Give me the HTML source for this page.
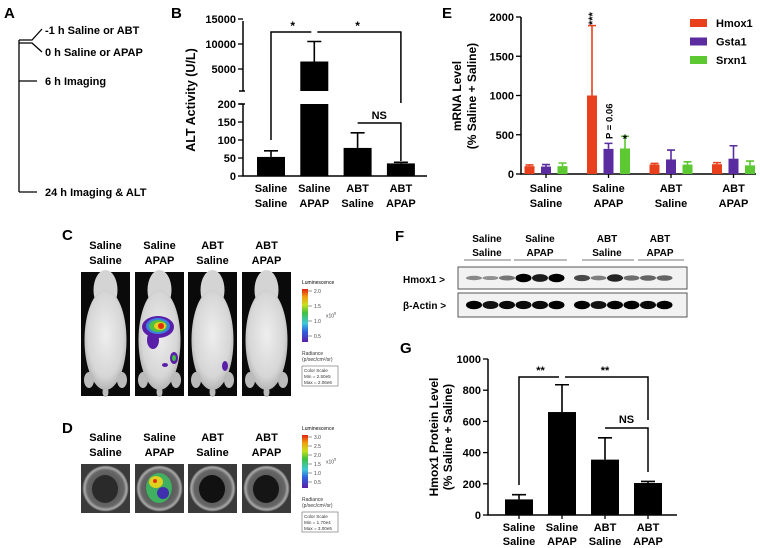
<!DOCTYPE html>
<html><head><meta charset="utf-8"><style>
html,body{margin:0;padding:0;background:#fff;}
svg{display:block;font-family:"Liberation Sans",Arial,sans-serif;}
.b{font-weight:bold;}
</style></head><body>
<svg id="fig" width="760" height="548" viewBox="0 0 760 548">
<defs>
<linearGradient id="cbar" x1="0" y1="1" x2="0" y2="0">
<stop offset="0" stop-color="#5a1fa8"/><stop offset="0.2" stop-color="#3060e0"/><stop offset="0.35" stop-color="#40c8d8"/><stop offset="0.55" stop-color="#40c040"/><stop offset="0.7" stop-color="#c8e020"/><stop offset="0.85" stop-color="#f0a010"/><stop offset="1" stop-color="#e02010"/>
</linearGradient>
<radialGradient id="body" cx="0.5" cy="0.45" r="0.6"><stop offset="0" stop-color="#eee"/><stop offset="0.7" stop-color="#d6d6d6"/><stop offset="1" stop-color="#aaa"/></radialGradient>
<radialGradient id="well" cx="0.5" cy="0.5" r="0.5"><stop offset="0" stop-color="#444"/><stop offset="0.8" stop-color="#666"/><stop offset="0.92" stop-color="#aaa"/><stop offset="1" stop-color="#555"/></radialGradient>
</defs>

<g stroke="#000" stroke-width="1.3" fill="none">
<line x1="19" y1="40" x2="19" y2="192"/>
<polyline points="19,40 32,40 42,29"/>
<polyline points="19,43 32,43 42,52"/>
<line x1="19" y1="81" x2="37" y2="81"/>
<line x1="19" y1="192" x2="37" y2="192"/>
</g>
<g font-size="11" class="b">
<text x="4" y="18" font-size="15">A</text>
<text x="45" y="34">-1 h Saline or ABT</text>
<text x="45" y="56">0 h Saline or APAP</text>
<text x="45" y="85">6 h Imaging</text>
<text x="45" y="196">24 h Imaging &amp; ALT</text>
</g>

<text x="171" y="18" font-size="15" class="b">B</text>
<g id="panelB"></g>
<text x="442" y="18" font-size="15" class="b">E</text>
<g id="panelE"></g>

<text x="62" y="240" font-size="15" class="b">C</text>
<g id="panelC"></g>
<text x="62" y="433" font-size="15" class="b">D</text>
<g id="panelD"></g>

<text x="395" y="241" font-size="15" class="b">F</text>
<g id="panelF"></g>

<text x="400" y="353" font-size="15" class="b">G</text>
<g id="panelG"></g>
</svg>

<script>
const groupsTop = ["Saline","Saline","ABT","ABT"];
const groupsBottom = ["Saline","APAP","Saline","APAP"];
const altMean = [53, 6500, 78, 35];
const altErr = [70, 10500, 120, 38];
const altTicksLow = [0,50,100,150,200];
const altTicksHigh = [5000,10000,15000];
const mrnaGenes = ["Hmox1","Gsta1","Srxn1"];
const hmox1Mrna = [100, 1000, 120, 125];
const hmox1MrnaErr = [115, 1890, 135, 145];
const gsta1Mrna = [95, 320, 185, 195];
const gsta1MrnaErr = [120, 390, 305, 360];
const srxn1Mrna = [100, 325, 120, 110];
const srxn1MrnaErr = [140, 480, 155, 165];
const mrnaTicks = [0,500,1000,1500,2000];
const protMean = [100, 660, 355, 205];
const protErr = [130, 835, 495, 215];
const protTicks = [0,200,400,600,800,1000];
const hmoxBand = [0.25,0.2,0.35,1,0.85,1,0.6,0.3,0.8,0.4,0.45,0.45];
const actinBand = [1,0.9,0.95,0.95,0.95,1,1,0.9,1,1,0.95,1];

const NS="http://www.w3.org/2000/svg";
function el(tag, attrs, parent, txt){const e=document.createElementNS(NS,tag);for(const k in attrs)e.setAttribute(k,attrs[k]);if(txt!==undefined)e.textContent=txt;parent.appendChild(e);return e;}

function catLabels(g, xs, y1, y2, fs){
  xs.forEach((x,i)=>{
    const t=el('text',{x:x,y:y1,'text-anchor':'middle','font-size':fs,'font-weight':'bold'},g,groupsTop[i]);
    
    
    const t2=el('text',{x:x,y:y2,'text-anchor':'middle','font-size':fs,'font-weight':'bold'},g,groupsBottom[i]);
    
    
  });
}
function errBar(g,x,y0,y1,hw,color,name){
  const l=el('path',{d:`M${x},${y0}V${y1}M${x-hw},${y1}H${x+hw}`,stroke:color,'stroke-width':1.6,fill:'none'},g);
  
  
}

(function(){
  const g=document.getElementById('panelB');
  const ax=243, x0=250, step=43.3, bw=28;
  const yLow=v=>176-v*72/200;
  const yHigh=v=>94-v*0.005;
  const xc=i=>x0+21+i*step;
  const axis=el('path',{d:`M${ax},21V91M${ax},104V176H427`,stroke:'#000','stroke-width':1.5,fill:'none'},g);
  
  
  el('path',{d:`M${ax-4},91H${ax+2}M${ax-4},104H${ax+2}`,stroke:'#000','stroke-width':1.5},g);
  altTicksLow.forEach(v=>{const y=yLow(v);el('line',{x1:ax-5,y1:y,x2:ax,y2:y,stroke:'#000','stroke-width':1.3},g);
    const t=el('text',{x:ax-7,y:y+4,'text-anchor':'end','font-size':11,'font-weight':'bold'},g,v);
    });
  altTicksHigh.forEach(v=>{const y=yHigh(v);el('line',{x1:ax-5,y1:y,x2:ax,y2:y,stroke:'#000','stroke-width':1.3},g);
    const t=el('text',{x:ax-7,y:y+4,'text-anchor':'end','font-size':11,'font-weight':'bold'},g,v);
    });
  altMean.forEach((v,i)=>{
    const x=xc(i);
    if(v<=200){
      const r=el('rect',{x:x-bw/2,y:yLow(v),width:bw,height:176-yLow(v),fill:'#000'},g);
      
    } else {
      const r=el('rect',{x:x-bw/2,y:104,width:bw,height:72,fill:'#000'},g);
      
      const r2=el('rect',{x:x-bw/2,y:yHigh(v),width:bw,height:91-yHigh(v),fill:'#000'},g);
      
    }
    const e=altErr[i], ye=e<=200?yLow(e):yHigh(e), yv=v<=200?yLow(v):yHigh(v);
    errBar(g,x,yv,ye,7,'#000','b-error-'+i);
  });
  const br=el('path',{d:`M${xc(0)},140V32H${xc(1)-3}M${xc(1)+3},32H${xc(3)}V103M${xc(2)},123H${xc(3)}V161`,stroke:'#000','stroke-width':1.5,fill:'none'},g);
  
  el('text',{x:(xc(0)+xc(1))/2,y:30,'text-anchor':'middle','font-size':12,'font-weight':'bold'},g,'*');
  el('text',{x:(xc(1)+xc(3))/2,y:30,'text-anchor':'middle','font-size':12,'font-weight':'bold'},g,'*');
  el('text',{x:(xc(2)+xc(3))/2,y:119,'text-anchor':'middle','font-size':11,'font-weight':'bold'},g,'NS');
  const yl=el('text',{x:0,y:0,transform:'translate(195,100) rotate(-90)','text-anchor':'middle','font-size':12.5,'font-weight':'bold'},g,'ALT Activity (U/L)');
  
  catLabels(g,[0,1,2,3].map(xc),192,207,11);
})();

(function(){
  const g=document.getElementById('panelE');
  const ax=521, y=v=>174-v*157/2000, gc=i=>546+i*62.5, bw=10;
  const colors=['#e8401c','#5a2ca0','#5cc832'];
  const means=[hmox1Mrna,gsta1Mrna,srxn1Mrna], errs=[hmox1MrnaErr,gsta1MrnaErr,srxn1MrnaErr];
  const axis=el('path',{d:`M${ax},17V174H756`,stroke:'#000','stroke-width':1.5,fill:'none'},g);
  
  mrnaTicks.forEach(v=>{el('line',{x1:ax-5,y1:y(v),x2:ax,y2:y(v),stroke:'#000','stroke-width':1.3},g);
    const t=el('text',{x:ax-7,y:y(v)+4,'text-anchor':'end','font-size':11,'font-weight':'bold'},g,v);
    });
  [0,1,2,3].forEach(i=>{const x=gc(i);el('line',{x1:x,y1:174,x2:x,y2:178,stroke:'#000','stroke-width':1.3},g);});
  means.forEach((arr,s)=>{
    arr.forEach((v,i)=>{
      const x=gc(i)+(s-1)*16.5;
      errBar(g,x,y(v),y(errs[s][i]),4,colors[s],'e-error-'+mrnaGenes[s]+'-'+i);
      const r=el('rect',{x:x-bw/2,y:y(v),width:bw,height:174-y(v),fill:colors[s]},g);
      
      
    });
    const ly=23+s*18.5;
    const sw=el('rect',{x:690,y:ly-4,width:17,height:8,fill:colors[s]},g);
    
    const lt=el('text',{x:716,y:ly+4,'font-size':11,'font-weight':'bold'},g,mrnaGenes[s]);
    
  });
  const x1=gc(1);
  el('text',{x:0,y:0,transform:`translate(${x1-16.5+4},25) rotate(-90)`,'font-size':11,'font-weight':'bold'},g,'***');
  el('text',{x:0,y:0,transform:`translate(${x1+4},139) rotate(-90)`,'font-size':9.5,'font-weight':'bold'},g,'P = 0.06');
  el('text',{x:x1+16.5,y:143,'text-anchor':'middle','font-size':12,'font-weight':'bold'},g,'*');
  const t1=el('text',{x:0,y:0,transform:'translate(461,96) rotate(-90)','text-anchor':'middle','font-size':12,'font-weight':'bold'},g,'mRNA Level');
  
  el('text',{x:0,y:0,transform:'translate(476,96) rotate(-90)','text-anchor':'middle','font-size':12,'font-weight':'bold'},g,'(% Saline + Saline)');
  catLabels(g,[0,1,2,3].map(gc),192,207,11);
})();

function colorScale(g,top,bh,ticks,exp,minT,maxT,pfx){
  el('text',{x:302,y:top-5,'font-size':5},g,'Luminescence');
  const r=el('rect',{x:302,y:top,width:6,height:bh,fill:'url(#cbar)'},g);
  
  ticks.forEach((t,i)=>{const yy=top+2+i*(bh-8)/(ticks.length-1);el('line',{x1:308,y1:yy,x2:312,y2:yy,stroke:'#555','stroke-width':0.6},g);el('text',{x:314,y:yy+2,'font-size':5,fill:'#444'},g,t);});
  el('text',{x:326,y:top+bh/2+2,'font-size':5,fill:'#444'},g,'x10');
  el('text',{x:334,y:top+bh/2-1,'font-size':4,fill:'#444'},g,exp);
  el('text',{x:302,y:top+bh+13,'font-size':5,fill:'#333'},g,'Radiance');
  el('text',{x:302,y:top+bh+19,'font-size':5,fill:'#333'},g,'(p/sec/cm²/sr)');
  el('rect',{x:302,y:top+bh+24,width:36,height:20,fill:'#fff',stroke:'#666','stroke-width':0.6},g);
  el('text',{x:304,y:top+bh+30,'font-size':4.6,fill:'#333'},g,'Color Scale');
  el('text',{x:304,y:top+bh+36,'font-size':4.6,fill:'#333'},g,minT);
  el('text',{x:304,y:top+bh+42,'font-size':4.6,fill:'#333'},g,maxT);
}
const imgX=[81,135,188,242];
(function(){
  const g=document.getElementById('panelC');
  catLabels(g,imgX.map(x=>x+24.5),249,264,11);
  imgX.forEach((x,i)=>{
    const f=el('g',{},g);
    
    el('rect',{x:x,y:272,width:49,height:124,fill:'#0a0a0a'},f);
    el('ellipse',{cx:x+24.5,cy:290,rx:12,ry:20,fill:'#d4d4d4'},f);
    el('ellipse',{cx:x+24.5,cy:340,rx:21,ry:50,fill:'url(#body)'},f);
    el('ellipse',{cx:x+8,cy:380,rx:5,ry:8,fill:'#bbb'},f);
    el('ellipse',{cx:x+41,cy:380,rx:5,ry:8,fill:'#bbb'},f);
    el('ellipse',{cx:x+24.5,cy:392,rx:3,ry:5,fill:'#bbb'},f);
  });
  const b=el('g',{},g);
  
  el('ellipse',{cx:158,cy:327,rx:16,ry:11,fill:'#5a1fa8'},b);
  el('ellipse',{cx:153,cy:340,rx:6,ry:9,fill:'#5a1fa8'},b);
  el('ellipse',{cx:158,cy:326,rx:12,ry:8,fill:'#3a80e0'},b);
  el('ellipse',{cx:158,cy:326,rx:9,ry:6,fill:'#50c040'},b);
  el('ellipse',{cx:160,cy:326,rx:6,ry:4,fill:'#e0d020'},b);
  el('ellipse',{cx:161,cy:326,rx:3,ry:3,fill:'#e03010'},b);
  el('ellipse',{cx:174,cy:358,rx:4,ry:6,fill:'#5a1fa8'},b);
  el('ellipse',{cx:174,cy:358,rx:2,ry:3,fill:'#40c040'},b);
  el('ellipse',{cx:165,cy:365,rx:3,ry:2,fill:'#5a1fa8'},b);
  el('ellipse',{cx:225,cy:366,rx:3,ry:5,fill:'#5a1fa8'},g);
  colorScale(g,289,53,['2.0','1.5','1.0','0.5'],'6','Min = 2.50e5','Max = 2.06e6','c');
})();
(function(){
  const g=document.getElementById('panelD');
  catLabels(g,imgX.map(x=>x+24.5),441,456,11);
  const fills=['#2a2a2a','#333','#111','#151515'];
  imgX.forEach((x,i)=>{
    const f=el('g',{},g);
    
    el('rect',{x:x,y:464,width:49,height:49,fill:'#3a3a3a'},f);
    el('circle',{cx:x+24.5,cy:488.5,r:23,fill:'url(#well)'},f);
    el('ellipse',{cx:x+24,cy:489,rx:13,ry:14,fill:fills[i]},f);
  });
  const b=el('g',{},g);
  
  el('ellipse',{cx:159,cy:488,rx:13,ry:15,fill:'#40b060'},b);
  el('ellipse',{cx:156,cy:482,rx:7,ry:6,fill:'#e0d020'},b);
  el('ellipse',{cx:163,cy:493,rx:6,ry:6,fill:'#4030b0'},b);
  el('circle',{cx:155,cy:481,r:2,fill:'#e03010'},b);
  colorScale(g,435,53,['3.0','2.5','2.0','1.5','1.0','0.5'],'5','Min = 1.70e4','Max = 3.00e5','d');
})();

(function(){
  const g=document.getElementById('panelF');
  const cx=[487,540,607,660], seg=[[464,511],[514,567],[582,634],[638,684]];
  cx.forEach((x,i)=>{
    const t=el('text',{x:x,y:242,'text-anchor':'middle','font-size':10,'font-weight':'bold'},g,groupsTop[i]);
    
    const t2=el('text',{x:x,y:256,'text-anchor':'middle','font-size':10,'font-weight':'bold'},g,groupsBottom[i]);
    
    el('line',{x1:seg[i][0],y1:260,x2:seg[i][1],y2:260,stroke:'#777','stroke-width':1},g);
  });
  const l1=el('text',{x:403,y:283,'font-size':10,'font-weight':'bold'},g,'Hmox1 >');
  
  const l2=el('text',{x:403,y:309,'font-size':10,'font-weight':'bold'},g,'β-Actin >');
  
  [[267,22,hmoxBand,'hmox1'],[293,24,actinBand,'actin']].forEach(([y0,h,arr,nm])=>{
    const r=el('rect',{x:458,y:y0,width:229,height:h,fill:'#f2f2f2',stroke:'#555','stroke-width':1},g);
    
    arr.forEach((a,i)=>{
      const lx=474+i*16.5+(i>=6?9:0);
      el('ellipse',{cx:lx,cy:y0+h/2,rx:8,ry:1.5+a*2.8,fill:'#000','fill-opacity':0.25+a*0.75},g);
    });
  });
})();

(function(){
  const g=document.getElementById('panelG');
  const ax=488, y=v=>515-v*0.156, xc=i=>519+i*43, bw=28;
  const axis=el('path',{d:`M${ax},359V515H677`,stroke:'#000','stroke-width':1.5,fill:'none'},g);
  
  protTicks.forEach(v=>{el('line',{x1:ax-5,y1:y(v),x2:ax,y2:y(v),stroke:'#000','stroke-width':1.3},g);
    const t=el('text',{x:ax-7,y:y(v)+4,'text-anchor':'end','font-size':11,'font-weight':'bold'},g,v);
    });
  protMean.forEach((v,i)=>{
    const x=xc(i);
    errBar(g,x,y(v),y(protErr[i]),7,'#000','g-error-'+i);
    const r=el('rect',{x:x-bw/2,y:y(v),width:bw,height:515-y(v),fill:'#000'},g);
    
    el('line',{x1:x,y1:515,x2:x,y2:519,stroke:'#000','stroke-width':1.3},g);
  });
  const br=el('path',{d:`M${xc(0)},485V377H${xc(1)-3}M${xc(1)+3},377H${xc(3)}V420M${xc(2)},428H${xc(3)}V472`,stroke:'#000','stroke-width':1.5,fill:'none'},g);
  
  el('text',{x:(xc(0)+xc(1))/2,y:374,'text-anchor':'middle','font-size':11,'font-weight':'bold'},g,'**');
  el('text',{x:(xc(1)+xc(3))/2,y:374,'text-anchor':'middle','font-size':11,'font-weight':'bold'},g,'**');
  el('text',{x:(xc(2)+xc(3))/2,y:423,'text-anchor':'middle','font-size':11,'font-weight':'bold'},g,'NS');
  const t1=el('text',{x:0,y:0,transform:'translate(438,437) rotate(-90)','text-anchor':'middle','font-size':12,'font-weight':'bold'},g,'Hmox1 Protein Level');
  
  el('text',{x:0,y:0,transform:'translate(452,437) rotate(-90)','text-anchor':'middle','font-size':12,'font-weight':'bold'},g,'(% Saline + Saline)');
  catLabels(g,[0,1,2,3].map(xc),531,545,11);
})();
</script>
</body></html>
